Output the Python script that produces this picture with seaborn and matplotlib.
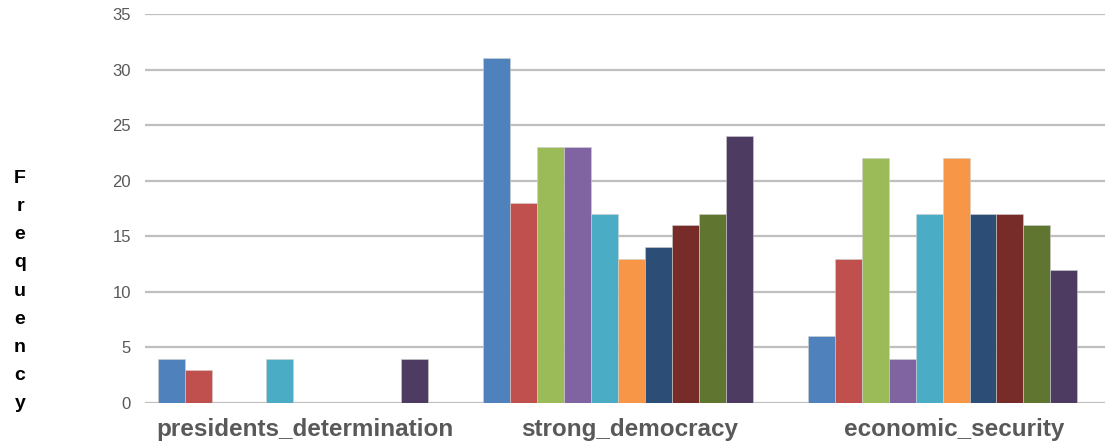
import matplotlib
matplotlib.use("Agg")
import matplotlib.pyplot as plt
import matplotlib.transforms as mtransforms
import seaborn as sns
import pandas as pd

categories = ["presidents_determination", "strong_democracy", "economic_security"]
series_names = ["s1", "s2", "s3", "s4", "s5", "s6", "s7", "s8", "s9", "s10"]
s1 = [4, 31, 6]
s2 = [3, 18, 13]
s3 = [0, 23, 22]
s4 = [0, 23, 4]
s5 = [4, 17, 17]
s6 = [0, 13, 22]
s7 = [0, 14, 17]
s8 = [0, 16, 17]
s9 = [0, 17, 16]
s10 = [4, 24, 12]
series_values = [s1, s2, s3, s4, s5, s6, s7, s8, s9, s10]
colors = ["#4F81BD", "#C0504D", "#9BBB59", "#8064A2", "#4BACC6",
          "#F79646", "#2C4D75", "#772C2A", "#5F7530", "#4D3B62"]
y_ticks = [0, 5, 10, 15, 20, 25, 30, 35]

rows = []
for name, vals in zip(series_names, series_values):
    for cat, v in zip(categories, vals):
        rows.append({"category": cat, "series": name, "value": v})
df = pd.DataFrame(rows)

sns.set_theme(style="white")
plt.rcParams["font.family"] = ["Liberation Sans", "DejaVu Sans"]

fig = plt.figure(figsize=(11.05, 4.43), dpi=100)
ax = fig.add_axes([145 / 1105, 1 - 403 / 443, 1 - 145 / 1105, (403 - 14) / 443])

sns.barplot(data=df, x="category", y="value", hue="series", order=categories,
            hue_order=series_names, palette=colors, width=0.83, gap=0,
            saturation=1, ax=ax, legend=False, edgecolor="#D0D0D0", linewidth=0.4)

ax.set_ylim(0, 35)
ax.set_xlim(-0.455, 2.5)
ax.set_yticks(y_ticks)
ax.yaxis.grid(True, color="#BFBFBF", linewidth=1.6)
ax.set_axisbelow(True)
for sp in ax.spines.values():
    sp.set_visible(False)
ax.tick_params(axis="y", length=0, pad=10, labelsize=12, labelcolor="#595959")
ax.tick_params(axis="x", length=0, pad=11)
ax.set_xticks(range(len(categories)))
ax.set_xticklabels(categories, fontsize=17.5, fontweight="bold", color="#595959")
shift = mtransforms.ScaledTranslation(12 / 100, 0, fig.dpi_scale_trans)
for lbl in ax.get_xticklabels():
    lbl.set_transform(lbl.get_transform() + shift)
ax.set_xlabel("")
ax.set_ylabel("")

fig.text(20 / 1105, 1 - 291 / 443, "\n".join("Frequency"), ha="center", va="center",
         fontsize=14, fontweight="bold", color="black", linespacing=1.86)

fig.savefig("out.png", dpi=100)
